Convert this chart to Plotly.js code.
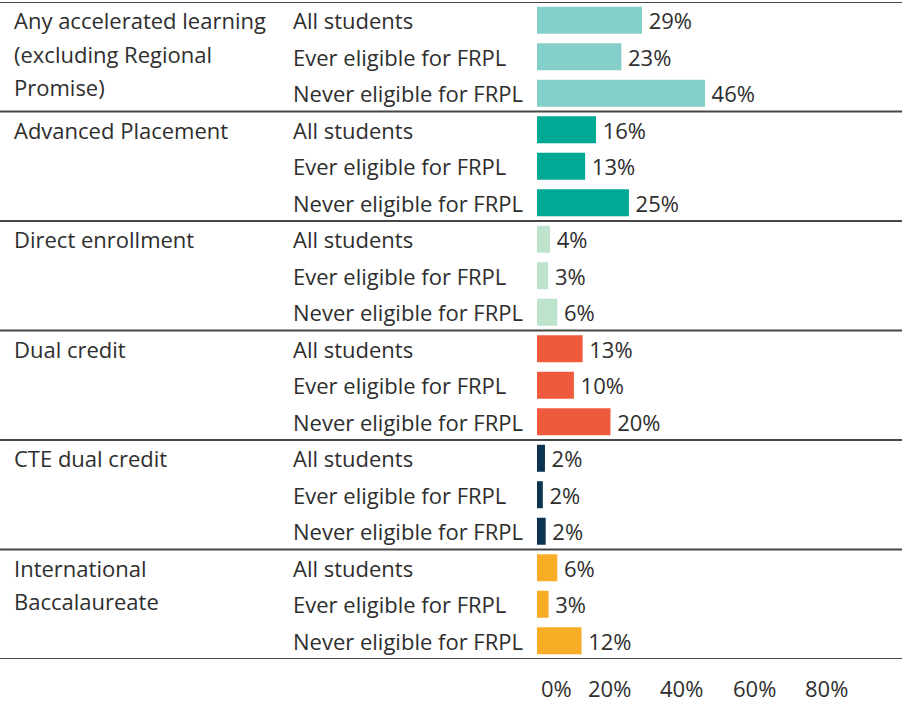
<!DOCTYPE html>
<html>
<head>
<meta charset="utf-8">
<script src="https://cdn.plot.ly/plotly-3.0.1.min.js"></script>
<style>
html,body{margin:0;padding:0;background:#fff;}
#chart{width:902px;height:703px;}
</style>
</head>
<body>
<div id="chart"></div>
<script>
// ---- data ----
var categories = [
  'Any accelerated learning<br>(excluding Regional<br>Promise)',
  'Advanced Placement',
  'Direct enrollment',
  'Dual credit',
  'CTE dual credit',
  'International<br>Baccalaureate'
];
var subgroups = ['All students', 'Ever eligible for FRPL', 'Never eligible for FRPL'];
var anyAccelerated = [29.0, 23.3, 46.4];
var advancedPlacement = [16.3, 13.3, 25.4];
var directEnrollment = [3.6, 3.1, 5.6];
var dualCredit = [12.6, 10.2, 20.3];
var cteDualCredit = [2.2, 1.6, 2.4];
var intlBacc = [5.6, 3.2, 12.3];
var seriesValues = [anyAccelerated, advancedPlacement, directEnrollment, dualCredit, cteDualCredit, intlBacc];
var colors = ['#84CFCA', '#00A996', '#BDE3CD', '#F05A3C', '#0C3350', '#F7AD25'];
var xTicks = [0, 20, 40, 60, 80];

// ---- layout constants ----
var W = 902, H = 703;
var mL = 537, mR = 3, mT = 2, mB = 44;
var plotW = W - mL - mR;
var plotH = H - mT - mB;
var nRows = categories.length * subgroups.length;
var rowPx = plotH / nRows;
var font = 'Open Sans, Noto Sans, sans-serif';
var textColor = '#2e2e2e';
var fs = 22;

function px2paperX(px) { return (px - mL) / plotW; }

var traces = [];
var annotations = [];
var shapes = [];

seriesValues.forEach(function (vals, g) {
  var ys = subgroups.map(function (s, i) { return g * 3 + i; });
  traces.push({
    type: 'bar',
    orientation: 'h',
    x: vals,
    y: ys,
    width: 0.74,
    marker: { color: colors[g], line: { width: 0 } },
    text: vals.map(function (v) { return '\u2009' + Math.round(v) + '%'; }),
    textposition: 'outside',
    constraintext: 'none',
    textfont: { family: font, size: fs, color: textColor },
    cliponaxis: false,
    hoverinfo: 'skip',
    showlegend: false
  });
  // subgroup labels
  subgroups.forEach(function (s, i) {
    annotations.push({
      xref: 'paper', yref: 'y', x: px2paperX(291), y: g * 3 + i,
      xanchor: 'left', yanchor: 'middle', showarrow: false,
      text: s, font: { family: font, size: fs, color: textColor }
    });
  });
  // category labels (one annotation per line)
  categories[g].split('<br>').forEach(function (line, k) {
    annotations.push({
      xref: 'paper', yref: 'y', x: px2paperX(12), y: g * 3 + k * (33.3 / rowPx),
      xanchor: 'left', yanchor: 'middle', showarrow: false,
      text: line, font: { family: font, size: fs, color: textColor }
    });
  });
});

// separator lines
for (var g = 0; g <= categories.length; g++) {
  shapes.push({
    type: 'line', xref: 'paper', yref: 'y',
    x0: px2paperX(0), x1: px2paperX(W), y0: g * 3 - 0.5, y1: g * 3 - 0.5,
    line: { color: '#474747', width: 2 }
  });
}

// x tick labels
xTicks.forEach(function (t) {
  annotations.push({
    xref: 'x', yref: 'paper', x: t, y: 0,
    xanchor: t === 0 ? 'left' : 'center', xshift: t === 0 ? 2 : 0,
    yanchor: 'middle', yshift: -29, showarrow: false,
    text: t + '%', font: { family: font, size: fs, color: textColor }
  });
});

var layout = {
  width: W, height: H,
  margin: { l: mL, r: mR, t: mT, b: mB, pad: 0 },
  paper_bgcolor: '#ffffff', plot_bgcolor: '#ffffff',
  barmode: 'overlay',
  xaxis: { range: [0, 100], showgrid: false, zeroline: false, showticklabels: false, ticks: '', fixedrange: true },
  yaxis: { range: [nRows - 0.5, -0.5], showgrid: false, zeroline: false, showticklabels: false, ticks: '', fixedrange: true },
  annotations: annotations,
  shapes: shapes,
  showlegend: false
};

Plotly.newPlot('chart', traces, layout, { staticPlot: true, displayModeBar: false });
</script>
</body>
</html>
